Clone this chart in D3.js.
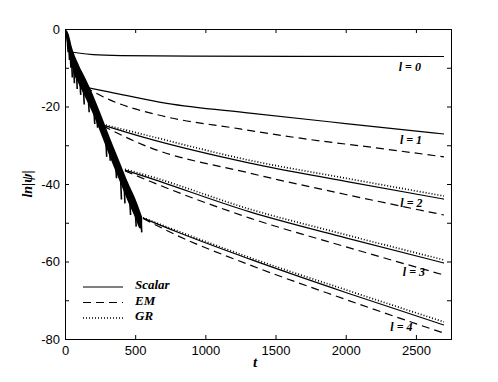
<!DOCTYPE html>
<meta charset="utf-8">
<style>
  body { margin: 0; background: #fff; }
  .tick text { font-family: "Liberation Sans", Arial, sans-serif; font-size: 13px; fill: #000; }
  .domain, .tick line { stroke: #000; }
  .lbl { font-family: "Liberation Serif", "Times New Roman", serif; font-weight: bold; font-style: italic; }
</style>

<body>
  <script src="https://cdn.jsdelivr.net/npm/d3@7"></script>
  <script>

    // early ringing band (all modes overlap), upper / lower edge
    var bandT = [0, 25, 50, 100, 150, 200, 250, 300, 350, 400, 450, 500, 535, 550];
    var bandUpper = [0, -1.2, -4.8, -9.4, -13.0, -17.0, -21.5, -26.2, -30.8, -35.2, -39.7, -43.7, -47.0, -48.5];
    var bandLower = [-0.6, -5.5, -10.0, -14.4, -18.1, -22.0, -26.5, -31.2, -35.8, -40.2, -44.7, -48.7, -51.5, -51.5];
    // downward spikes at the zeros of the ringing: [t, top, bottom]
    var spikes = [[15, -2, -6], [25, -3, -8], [35, -4.5, -10], [45, -6, -12.5], [60, -8, -14], [80, -10, -15.5],
      [105, -12.5, -17], [130, -14.5, -19.5], [165, -17, -21.5], [205, -20.5, -24.5], [225, -22, -25.5],
      [290, -28, -33], [315, -30, -34], [360, -34.5, -38.5], [395, -37.5, -44], [420, -39.5, -45],
      [460, -43.5, -48], [500, -46.5, -51], [540, -49.5, -52.5]];

    // late-time tails
    var scalarT = [
      [55, 95, 200, 400, 900, 2700],
      [142, 320, 725, 1317, 2000, 2700],
      [270, 556, 1317, 2000, 2700],
      [427, 605, 1317, 2000, 2700],
      [556, 800, 1317, 2000, 2700]
    ];
    var scalarV = [
      [-6.0, -6.2, -6.6, -6.85, -7.0, -7.1],
      [-15.0, -16.3, -19.2, -21.7, -24.4, -27.1],
      [-24.8, -27.9, -34.6, -39.3, -43.9],
      [-36.4, -38.5, -47.2, -53.9, -60.4],
      [-48.8, -52.4, -59.4, -68.0, -76.4]
    ];
    var emT = [
      [142, 320, 726, 1197, 1700, 2200, 2700],
      [270, 556, 1317, 2000, 2700],
      [427, 605, 1317, 2000, 2700],
      [556, 800, 1317, 2000, 2700]
    ];
    var emV = [
      [-15.0, -18.3, -22.7, -25.5, -28.3, -30.6, -33.0],
      [-25.0, -29.9, -37.2, -42.7, -48.0],
      [-36.6, -39.3, -48.8, -56.2, -63.5],
      [-48.9, -53.3, -60.9, -69.8, -78.5]
    ];
    var grT = [
      [270, 556, 1317, 2000, 2700],
      [427, 605, 1317, 2000, 2700],
      [556, 800, 1317, 2000, 2700]
    ];
    var grV = [
      [-24.6, -27.2, -33.9, -38.5, -43.1],
      [-36.2, -38.0, -46.5, -53.1, -59.6],
      [-48.7, -52.1, -59.0, -67.3, -75.6]
    ];

    var modeLabels = ["l = 0", "l = 1", "l = 2", "l = 3", "l = 4"];
    var labelT = [2457, 2465, 2468, 2486, 2397];
    var labelV = [-10.9, -29.7, -45.9, -63.7, -78.0];

    var legendNames = ["Scalar", "EM", "GR"];
    var xTicks = [0, 500, 1000, 1500, 2000, 2500];
    var yTicks = [0, -10, -20, -30, -40, -50, -60, -70, -80];

    var W = 498, H = 382;
    var margin = { top: 29, right: 47, bottom: 43, left: 65 },
      width = W - margin.left - margin.right,
      height = H - margin.top - margin.bottom;

    var x = d3.scaleLinear().domain([0, 2750]).range([0, width]);
    var y = d3.scaleLinear().domain([-80, 0]).range([height, 0]);

    var svg = d3.select("body").append("svg")
      .attr("width", W)
      .attr("height", H)
      .append("g")
      .attr("transform", "translate(" + margin.left + "," + margin.top + ")");

    svg.append("defs").append("clipPath").attr("id", "clip")
      .append("rect").attr("width", width).attr("height", height);

    var plot = svg.append("g").attr("clip-path", "url(#clip)");

    var line = d3.line()
      .x(function (d) { return x(d[0]); })
      .y(function (d) { return y(d[1]); })
      .curve(d3.curveMonotoneX);

    function zip(ts, vs) { return ts.map(function (t, i) { return [t, vs[i]]; }); }

    // band
    var area = d3.area()
      .x(function (d, i) { return x(bandT[i]); })
      .y0(function (d, i) { return y(bandLower[i]); })
      .y1(function (d, i) { return y(bandUpper[i]); })
      .curve(d3.curveMonotoneX);
    plot.append("path").datum(bandT).attr("d", area).attr("fill", "#000");

    plot.selectAll(".spike").data(spikes).enter().append("line")
      .attr("x1", function (d) { return x(d[0]); })
      .attr("x2", function (d) { return x(d[0]) + 1; })
      .attr("y1", function (d) { return y(d[1]); })
      .attr("y2", function (d) { return y(d[2]); })
      .attr("stroke", "#000").attr("stroke-width", 1.6);

    scalarT.forEach(function (ts, i) {
      plot.append("path").datum(zip(ts, scalarV[i])).attr("d", line)
        .attr("fill", "none").attr("stroke", "#000").attr("stroke-width", 1.2);
    });
    emT.forEach(function (ts, i) {
      plot.append("path").datum(zip(ts, emV[i])).attr("d", line)
        .attr("fill", "none").attr("stroke", "#000").attr("stroke-width", 1.2)
        .attr("stroke-dasharray", "8,5");
    });
    grT.forEach(function (ts, i) {
      plot.append("path").datum(zip(ts, grV[i])).attr("d", line)
        .attr("fill", "none").attr("stroke", "#000").attr("stroke-width", 1.7)
        .attr("stroke-dasharray", "1,2");
    });

    // mode labels
    svg.selectAll(".mode").data(modeLabels).enter().append("text")
      .attr("class", "lbl")
      .attr("x", function (d, i) { return x(labelT[i]); })
      .attr("y", function (d, i) { return y(labelV[i]); })
      .attr("text-anchor", "middle")
      .style("font-size", "12px")
      .text(function (d) { return d; });

    // axes (ticks inward, mirrored box)
    svg.append("g").attr("transform", "translate(0," + height + ")")
      .call(d3.axisBottom(x).tickValues(xTicks).tickSize(-4).tickPadding(7).tickFormat(d3.format("d")));
    svg.append("g")
      .call(d3.axisTop(x).tickValues(xTicks).tickSize(-4).tickFormat(""));
    svg.append("g")
      .call(d3.axisLeft(y).tickValues(yTicks).tickSize(-4).tickPadding(5)
        .tickFormat(function (d) { return d % 20 === 0 ? String(d) : ""; }));
    svg.append("g").attr("transform", "translate(" + width + ",0)")
      .call(d3.axisRight(y).tickValues(yTicks).tickSize(-4).tickFormat(""));
    svg.selectAll(".domain").attr("stroke-width", 1);

    // axis titles
    svg.append("text").attr("class", "lbl")
      .attr("x", 190).attr("y", 338)
      .attr("text-anchor", "middle").style("font-size", "15px")
      .text("t");
    svg.append("text").attr("class", "lbl")
      .attr("transform", "translate(-33,155) rotate(-90)")
      .attr("text-anchor", "middle").style("font-size", "14px")
      .text("ln|ψ|");

    // legend
    var legDash = [null, "8,5", "1,2"];
    var legW = [1.2, 1.2, 1.7];
    var leg = svg.append("g").attr("transform", "translate(18,258)");
    legendNames.forEach(function (name, i) {
      var g = leg.append("g").attr("transform", "translate(0," + (i * 15.5) + ")");
      g.append("line").attr("x1", 0).attr("x2", 40).attr("y1", 0).attr("y2", 0)
        .attr("stroke", "#000").attr("stroke-width", legW[i])
        .attr("stroke-dasharray", legDash[i]);
      g.append("text").attr("class", "lbl")
        .attr("x", 52).attr("y", 2)
        .style("font-size", "13px")
        .text(name);
    });

  </script>

</body>

</html>
